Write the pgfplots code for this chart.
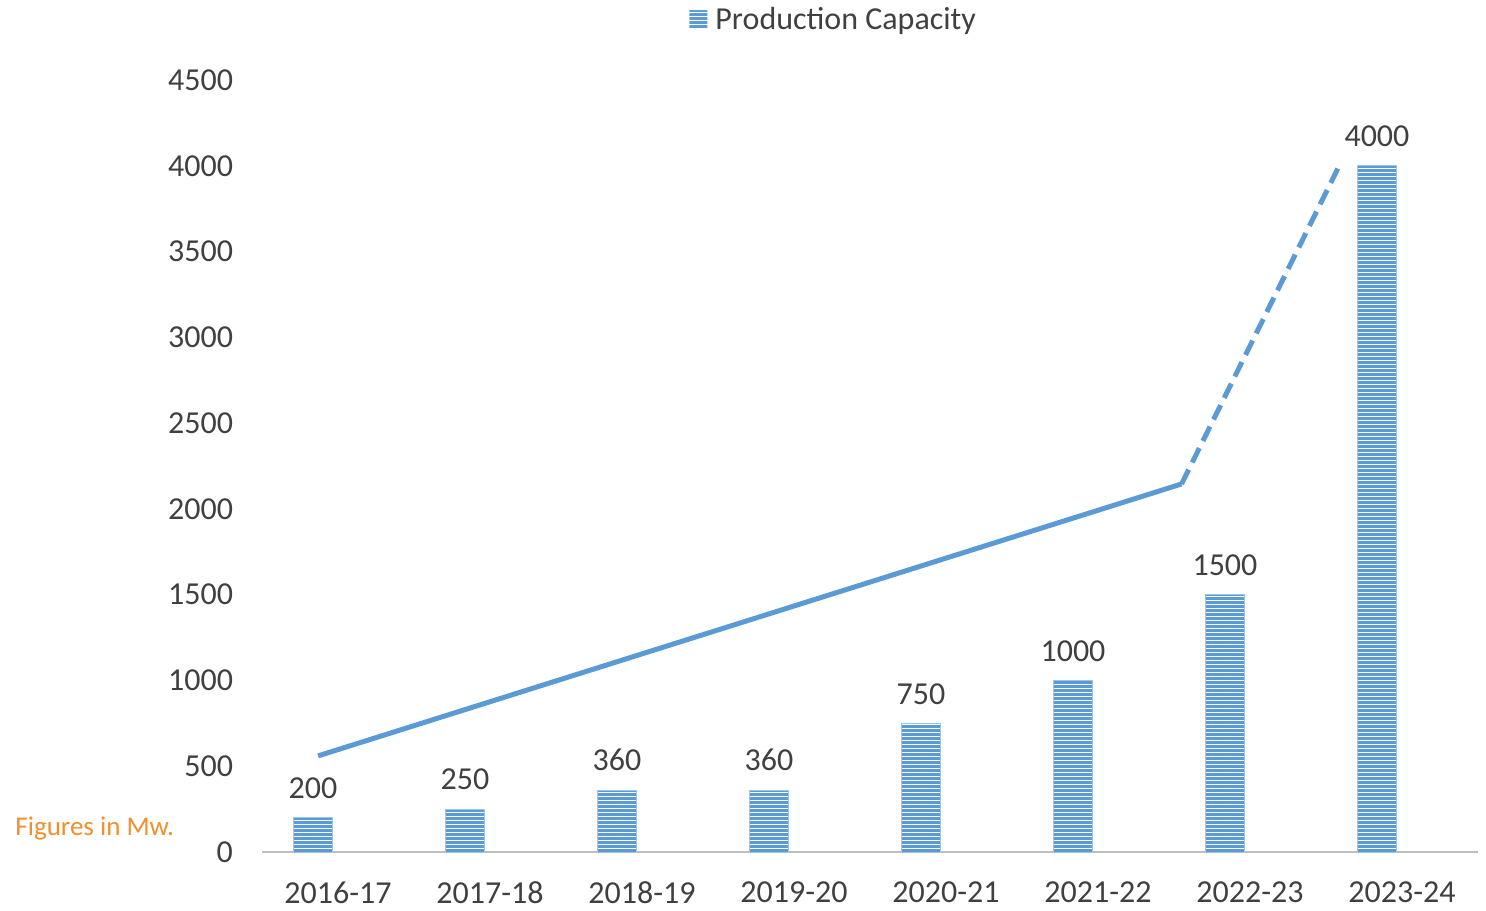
\documentclass[border=0pt]{standalone}
\usepackage{pgfplots}
\pgfplotsset{compat=1.18}
\usepackage{fontspec}
\setmainfont{Carlito}
\usetikzlibrary{patterns.meta}
\definecolor{barblue}{HTML}{5B9BD5}
\definecolor{txt}{HTML}{404040}
\definecolor{axgray}{HTML}{BFBFBF}
\definecolor{orng}{HTML}{F28E2B}
\begin{document}
\begin{tikzpicture}
\begin{axis}[
  scale only axis,
  width=608pt, height=386pt,
  xmin=-0.5, xmax=7.5,
  ymin=0, ymax=4500,
  ytick={0,500,...,4500},
  xtick={0,...,7},
  xticklabels={2016-17,2017-18,2018-19,2019-20,2020-21,2021-22,2022-23,2023-24},
  axis x line*=bottom,
  axis y line*=left,
  y axis line style={draw=none},
  x axis line style={color=axgray, line width=1pt, -},
  major tick length=0pt,
  clip=false,
  font=\fontsize{16}{19}\selectfont,
  tick label style={color=txt, font=\fontsize{16}{19}\selectfont},
  /pgf/number format/assume math mode=true,
  /pgf/number format/1000 sep={},
  xticklabel style={yshift=-11.5pt},
  yticklabel style={xshift=-11pt},
  legend style={draw=none, fill=none, at={(rel axis cs:0.471,1.0777)}, anchor=center, text=txt, font=\fontsize{16}{19}\selectfont, inner sep=0pt},
  legend image code/.code={\draw[draw=none, pattern={Lines[angle=0,distance=2pt,line width=1.4pt]}, pattern color=barblue] (0pt,-4.5pt) rectangle (9pt,4.5pt);},
]
\path (rel axis cs:-0.2155,-0.0725) rectangle (rel axis cs:1.0066,1.1036);
\addplot[ybar, bar width=19.5pt, bar shift=-12.5pt, draw=barblue!60, line width=0.3pt,
  pattern={Lines[angle=0,distance=2pt,line width=1.4pt]}, pattern color=barblue,
  nodes near coords, nodes near coords style={color=txt, font=\fontsize{16}{19}\selectfont, yshift=6pt, xshift=-12.5pt}]
  coordinates {(0,200) (1,250) (2,360) (3,360) (4,750) (5,1000) (6,1500) (7,4000)};
\addlegendentry{\hspace{2pt}Production Capacity}
\addplot[barblue, line width=2.5pt, forget plot] coordinates {(-0.131,560) (5.55,2145)};
\addplot[barblue, line width=2.5pt, dash pattern=on 8pt off 4pt, forget plot] coordinates {(5.55,2145) (6.58,3987)};
\node[anchor=west, inner sep=0pt, text=orng, font=\fontsize{13.5}{16}\selectfont] at (rel axis cs:-0.2031,0.0300) {Figures in Mw.};
\end{axis}
\end{tikzpicture}
\end{document}
